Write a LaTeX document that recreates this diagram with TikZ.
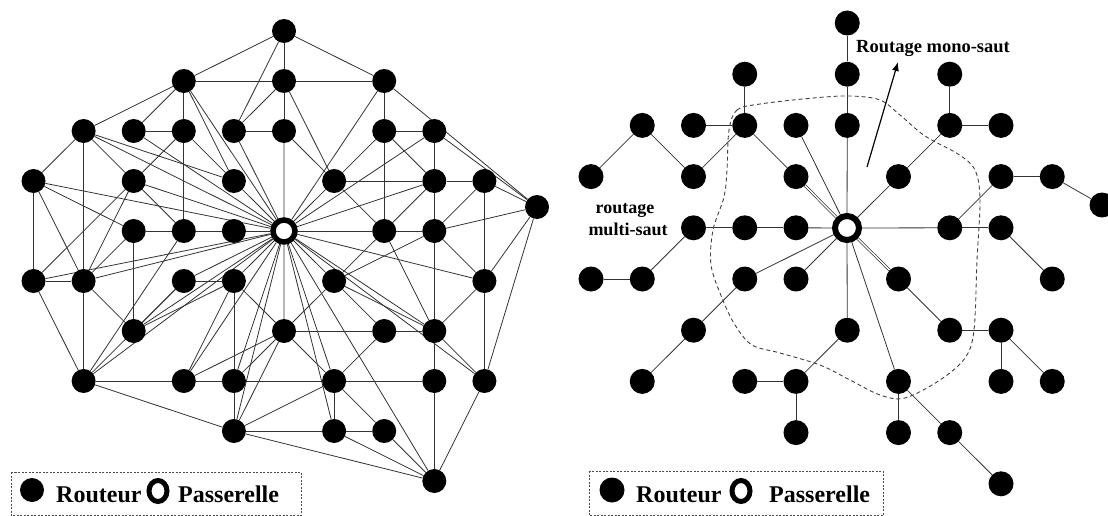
\documentclass[tikz,border=0pt]{standalone}
\usepackage{fontspec}
\setmainfont{Liberation Serif}
\usetikzlibrary{arrows.meta,shapes.geometric}
\pgfdeclarelayer{bg}
\pgfsetlayers{bg,main}
\begin{document}
\begin{tikzpicture}[x=1pt,y=-1pt,
  router/.style={circle,fill=black,inner sep=0pt,minimum size=24pt},
  routerB/.style={circle,fill=black,inner sep=0pt,minimum size=25pt},
  gate/.style={circle,draw=black,fill=white,line width=5.5pt,inner sep=0pt,minimum size=22pt},
  gateB/.style={circle,draw=black,fill=white,line width=6pt,inner sep=0pt,minimum size=24pt},
  ring/.style={ellipse,draw=black,fill=white,line width=5pt,inner sep=0pt,minimum width=18pt,minimum height=21pt},
  link/.style={line width=0.8pt,black!80},
  dbl/.style={line width=0.7pt,black!80,double=white,double distance=1.4pt},
  lbl/.style={font=\bfseries\fontsize{24}{28}\selectfont,inner sep=0pt},
  txt/.style={font=\bfseries\fontsize{18}{21}\selectfont,inner sep=0pt},
  legbox/.style={line width=0.6pt,black!70,dash pattern=on 2pt off 1.5pt},
  zone/.style={line width=0.9pt,black!75,dash pattern=on 4pt off 3pt}]
\useasboundingbox (0,0) rectangle (1108,516);

% ---------- nodes of both graphs ----------
\foreach \c/\r in {5/0,3/1,5/1,7/1,1/2,2/2,3/2,4/2,5/2,7/2,8/2,0/3,2/3,4/3,6/3,8/3,9/3,2/4,3/4,4/4,7/4,8/4,0/5,1/5,3/5,4/5,6/5,9/5,2/6,5/6,7/6,8/6,1/7,3/7,4/7,6/7,8/7,9/7,4/8,6/8,7/8,8/9}
{
  \node[router] (a\c\r) at ({33.5+50.1*\c},{31+50*\r}) {};
  \node[routerB] (b\c\r) at ({591+51.25*\c},{23+51.2*\r}) {};
}
\node[router] (aR) at (537,207) {};
\node[gate] (aG) at (284,231) {};
\node[routerB] (bR) at (1102,205) {};
\node[gateB] (bG) at (847,228) {};

% ---------- left graph links ----------
\begin{pgfonlayer}{bg}
\foreach \u/\v in {50/31,50/71,50/51,50/42,
  31/51,31/12,31/22,31/32,31/43,31/G,
  51/71,51/52,51/42,51/63,
  71/72,71/R,71/G,
  12/03,12/15,12/23,12/43,12/G,
  22/32,22/G,
  32/34,32/43,32/23,
  42/52,42/G,
  52/G,52/63,
  43/G,
  72/82,72/63,72/83,72/74,
  82/83,82/R,82/G,
  03/05,03/15,03/24,03/G,
  23/G,23/15,23/05,23/34,
  63/83,63/G,63/74,
  83/93,83/G,83/84,83/74,
  93/R,93/84,93/95,
  R/84,R/95,R/97,
  24/34,34/44,44/G,24/26,24/15,
  G/74,74/84,74/65,74/86,
  84/86,84/95,84/65,
  05/15,05/17,15/17,15/26,05/G,15/G,
  35/45,35/G,45/G,45/56,45/47,
  26/35,26/45,26/G,
  17/37,37/47,17/48,47/48,17/34,17/35,17/G,
  37/56,37/G,37/45,47/56,47/G,48/56,48/G,
  G/56,G/65,G/67,G/68,G/89,G/86,G/97,G/95,
  65/56,65/76,65/86,
  56/76,76/86,76/67,56/67,
  67/87,67/68,67/78,47/67,48/67,
  68/78,78/89,68/89,87/89,97/89,48/89,48/68,
  86/87,95/97,95/86,86/97}
  \draw[link] (a\u) -- (a\v);

% ---------- right graph links ----------
\foreach \u/\v in {50/51,51/52,52/G,
  31/32,22/32,12/03,12/23,23/32,32/43,42/G,
  71/72,72/82,72/63,63/G,
  83/93,93/R,83/74,G/74,74/84,84/95,
  24/34,34/44,44/G,24/15,05/15,
  G/35,G/45,35/26,26/17,
  37/47,47/48,47/56,G/56,
  65/76,76/86,86/87,86/97,
  G/67,67/68,67/78,78/89}
  \draw[link] (b\u) -- (b\v);
\draw[dbl] (b43) -- (bG);
\draw[dbl] (bG) -- (b65);

% single-hop zone
\draw[zone] plot[smooth cycle,tension=0.55] coordinates {
  (729,130) (737,110) (760,104) (813,98) (850,96) (880,100) (900,115)
  (925,136) (958,154) (975,170) (980,200) (977,260) (974,330) (965,358)
  (940,380) (905,398) (880,395) (850,380) (820,365) (780,353) (752,345)
  (735,325) (722,298) (711,265) (713,230) (724,197) (727,170)};
\end{pgfonlayer}

% ---------- labels ----------
\coordinate (arrS) at (867,167);
\coordinate (arrE) at (898,62);
\draw[line width=1.2pt,-{Latex[length=9pt,width=7pt]}] (arrS) -- (arrE);
\node[font=\bfseries\fontsize{18.5}{22}\selectfont,inner sep=0pt,anchor=base west] (mono) at (856,53) {Routage mono-saut};
\node[txt,anchor=base] (multi1) at (625,213) {routage};
\node[txt,anchor=base] (multi2) at (628,235) {multi-saut};

% ---------- legends ----------
\draw[legbox] (11,472) rectangle (301,515.5);
\node[router,minimum size=24pt] (lr1) at (32,490) {};
\node[lbl,anchor=base west] (lt1) at (56,502) {Routeur};
\node[ring] (lg1) at (158,491) {};
\node[lbl,anchor=base west] (lp1) at (178,502) {Passerelle};

\draw[legbox] (589,471) rectangle (883,515.5);
\node[routerB] (lr2) at (612,490) {};
\node[lbl,anchor=base west] (lt2) at (636,502) {Routeur};
\node[ring] (lg2) at (741,491) {};
\node[lbl,anchor=base west] (lp2) at (769,502) {Passerelle};
\end{tikzpicture}
\end{document}
